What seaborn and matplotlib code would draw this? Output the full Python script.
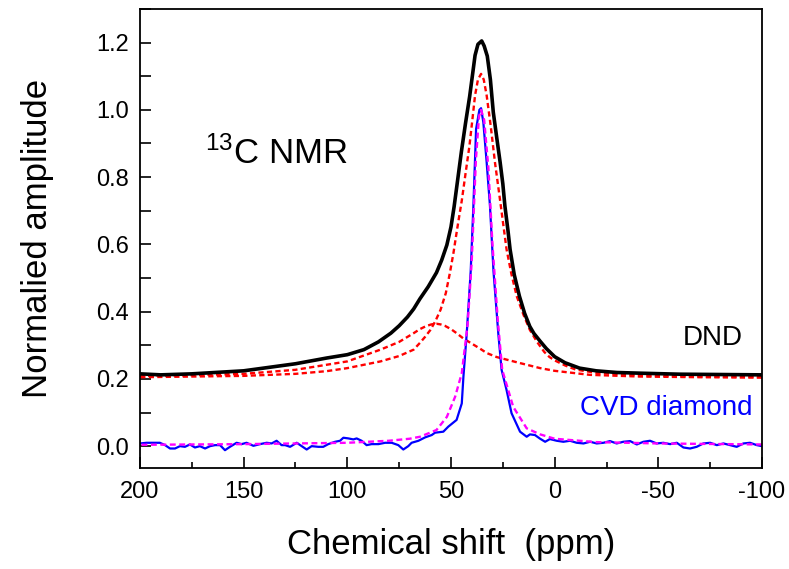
import numpy as np
import pandas as pd
import seaborn as sns
import matplotlib
matplotlib.use("Agg")
import matplotlib.pyplot as plt
from matplotlib.ticker import MultipleLocator

# DND measured spectrum (black)
dnd_x = [200, 190, 175, 150, 125, 110, 100, 92, 85, 79, 75, 71, 68, 65, 61, 57, 54.5, 52, 50, 48.5,
         46.5, 45, 43, 41, 39.5, 38.4, 37, 35.2, 34, 32.5, 31, 29.6, 28, 26.3, 25, 24, 22.5, 21.5,
         19.5, 17, 14.5, 12, 10, 7, 4, 0, -5, -12, -20, -30, -41, -60, -80, -100]
dnd_y = [0.215, 0.212, 0.215, 0.224, 0.245, 0.262, 0.272, 0.287, 0.31, 0.336, 0.358, 0.384, 0.408,
         0.438, 0.474, 0.516, 0.553, 0.598, 0.652, 0.712, 0.805, 0.875, 0.96, 1.04, 1.11, 1.162, 1.195,
         1.205, 1.19, 1.16, 1.09, 0.993, 0.92, 0.844, 0.78, 0.714, 0.64, 0.585, 0.51, 0.446, 0.395,
         0.356, 0.335, 0.312, 0.29, 0.266, 0.248, 0.232, 0.224, 0.219, 0.217, 0.214, 0.213, 0.212]

# DND fit components (red dashed)
narrow_x = [200, 175, 150, 125, 110, 100, 84, 75, 68, 65, 62.5, 60, 57.5, 55, 52.5, 50.5, 48.8, 47.3,
            46, 44.8, 43, 41.1, 39.7, 38.4, 37, 35.5, 34.2, 32.8, 30.8, 28.8, 26.3, 24.7, 23.2, 20.8,
            18.3, 15, 12, 8.5, 5, 2.5, 0, -5, -10, -20, -40, -60, -80, -100]
narrow_y = [0.205, 0.207, 0.209, 0.215, 0.223, 0.232, 0.252, 0.268, 0.287, 0.307, 0.325, 0.345, 0.372,
            0.406, 0.455, 0.516, 0.575, 0.635, 0.685, 0.73, 0.81, 0.893, 0.97, 1.043, 1.09, 1.107,
            1.09, 1.043, 0.95, 0.844, 0.73, 0.655, 0.585, 0.51, 0.446, 0.39, 0.346, 0.31, 0.28,
            0.265, 0.255, 0.24, 0.228, 0.218, 0.211, 0.208, 0.206, 0.205]
broad_x = [200, 175, 150, 125, 100, 84, 75, 68, 65, 62, 59.5, 57, 55, 53, 50, 47.3, 44, 40, 36, 32.8,
           28, 23, 16.7, 7, 0, -17, -41, -70, -100]
broad_y = [0.209, 0.211, 0.215, 0.227, 0.252, 0.287, 0.31, 0.336, 0.348, 0.357, 0.362, 0.364, 0.362,
           0.358, 0.348, 0.336, 0.32, 0.305, 0.29, 0.277, 0.265, 0.257, 0.247, 0.232, 0.224, 0.212,
           0.207, 0.205, 0.204]

# CVD diamond measured spectrum (blue)
cvd_x = [200, 196.8, 193.6, 190.4, 187.9, 185.5, 183.1, 180.7, 178.3, 175.9, 173.5, 171.1, 168.6, 166.2,
         163.8, 161.4, 159, 156.6, 153.4, 151, 148.6, 145.3, 142.1, 138.9, 136.5, 134.1, 131.7, 130,
         127.6, 124.4, 122, 119.6, 117.2, 114, 111.6, 109.2, 105.9, 103.5, 101.9, 99.5, 97.1, 95.5,
         93.1, 90.7, 88.3, 85, 81.8, 78.6, 75.4, 73, 70.6, 69, 65.7, 62.5, 59.3, 57.7, 53.7, 51.3,
         47.3, 44.8, 44, 42.4, 40.5, 39.2, 37.9, 36.3, 35.5, 34.4, 32.8, 31.2, 29.5, 27.2, 25.6, 23.2,
         20.8, 16.7, 13.5, 11.9, 9.5, 7, 4.6, 2.3, -1, -4.2, -7.4, -10.6, -13.9, -17.1, -20.3, -23.5,
         -26.7, -29.9, -33.1, -36.4, -39.6, -42.8, -46, -49.2, -52.4, -55.7, -58.9, -62.1, -65.3,
         -68.5, -71.7, -75, -78.2, -81.4, -84.6, -87.8, -91, -94.2, -97.5, -100]
cvd_y = [0.008, 0.010, 0.010, 0.010, 0.003, -0.007, -0.007, 0.0, -0.002, 0.005, -0.004, 0.0, -0.007,
         0.0, 0.003, 0.003, -0.012, -0.002, 0.010, 0.006, 0.010, 0.001, 0.006, 0.010, 0.008, 0.016,
         0.003, 0.003, -0.002, 0.010, 0.0, -0.010, 0.0, -0.002, -0.002, 0.006, 0.013, 0.016, 0.025,
         0.023, 0.020, 0.023, 0.016, 0.003, 0.006, 0.006, 0.010, 0.010, 0.003, -0.010, 0.0, 0.010,
         0.016, 0.026, 0.033, 0.040, 0.043, 0.058, 0.078, 0.127, 0.207, 0.336, 0.52, 0.714, 0.943,
         1.0, 1.005, 0.963, 0.844, 0.714, 0.52, 0.336, 0.227, 0.167, 0.098, 0.043, 0.028, 0.035,
         0.033, 0.022, 0.013, 0.021, 0.016, 0.013, 0.016, 0.010, 0.008, 0.013, 0.008, 0.010, 0.015,
         0.008, 0.013, 0.015, 0.005, 0.013, 0.016, 0.008, 0.010, 0.006, 0.010, -0.004, -0.007,
         -0.002, 0.008, 0.010, 0.003, 0.008, 0.003, -0.002, 0.008, 0.010, 0.003, 0.0]

# CVD fit (magenta dashed)
fit_x = [200, 150, 100, 80, 70, 64.9, 57, 52, 48, 44.8, 42, 40, 38, 36.5, 35.5, 34, 32, 30, 27.5,
         25.3, 20, 13.5, 7, 0, -20, -50, -100]
fit_y = [0.004, 0.006, 0.010, 0.016, 0.022, 0.028, 0.048, 0.087, 0.147, 0.217, 0.36, 0.55, 0.85,
         0.98, 1.0, 0.97, 0.83, 0.6, 0.38, 0.227, 0.117, 0.053, 0.035, 0.022, 0.012, 0.008, 0.005]

sns.set_style("ticks")
plt.rcParams['font.family'] = ['Liberation Sans', 'DejaVu Sans']
plt.rcParams['mathtext.default'] = 'regular'
plt.rcParams['axes.unicode_minus'] = False
for key in ['text.color', 'axes.labelcolor', 'xtick.color', 'ytick.color', 'axes.edgecolor']:
    plt.rcParams[key] = 'black'

fig = plt.figure(figsize=(7.89, 5.69), dpi=100)
ax = fig.add_axes([0.1774, 0.1775, 0.7884, 0.8067])

dash = (0, (2.2, 1.4))
sns.lineplot(x=broad_x, y=broad_y, color="red", linewidth=1.7, linestyle=dash, ax=ax, estimator=None)
sns.lineplot(x=narrow_x, y=narrow_y, color="red", linewidth=1.7, linestyle=dash, ax=ax, estimator=None)
sns.lineplot(x=dnd_x, y=dnd_y, color="black", linewidth=2.6, ax=ax, estimator=None)
sns.lineplot(x=cvd_x, y=cvd_y, color="blue", linewidth=1.6, ax=ax, estimator=None)
sns.lineplot(x=fit_x, y=fit_y, color="magenta", linewidth=1.7, linestyle=(0, (2.5, 1.5)), ax=ax, estimator=None)

ax.set_xlim(200, -100)
ax.set_ylim(-0.065, 1.3)
ax.xaxis.set_major_locator(MultipleLocator(50))
ax.xaxis.set_minor_locator(MultipleLocator(25))
ax.yaxis.set_minor_locator(MultipleLocator(0.1))
ax.set_yticks(np.arange(0, 1.21, 0.2))
ax.set_yticklabels([f"{v:.1f}" for v in np.arange(0, 1.21, 0.2)])
ax.tick_params(axis="both", which="major", direction="in", length=8, width=1.2, labelsize=17,
               top=False, right=False)
ax.tick_params(axis="x", which="major", pad=9)
ax.tick_params(axis="y", which="major", pad=8)
ax.tick_params(axis="x", which="minor", direction="in", length=4, width=1.2, top=False)
ax.tick_params(axis="y", which="minor", direction="in", length=8, width=1.2, right=False)
for s in ax.spines.values():
    s.set_linewidth(1.3)
    s.set_visible(True)

ax.set_xlabel("Chemical shift  (ppm)", fontsize=25, labelpad=18)
ax.set_ylabel("Normalied amplitude", fontsize=25, labelpad=30)

ax.text(168.5, 0.84, r"$^{13}$C NMR", fontsize=25, ha="left", va="baseline")
ax.text(-90.5, 0.322, "DND", fontsize=20, ha="right", va="center")
ax.text(-95.5, 0.113, "CVD diamond", fontsize=20, ha="right", va="center", color="blue")

fig.savefig("out.png", dpi=100)
